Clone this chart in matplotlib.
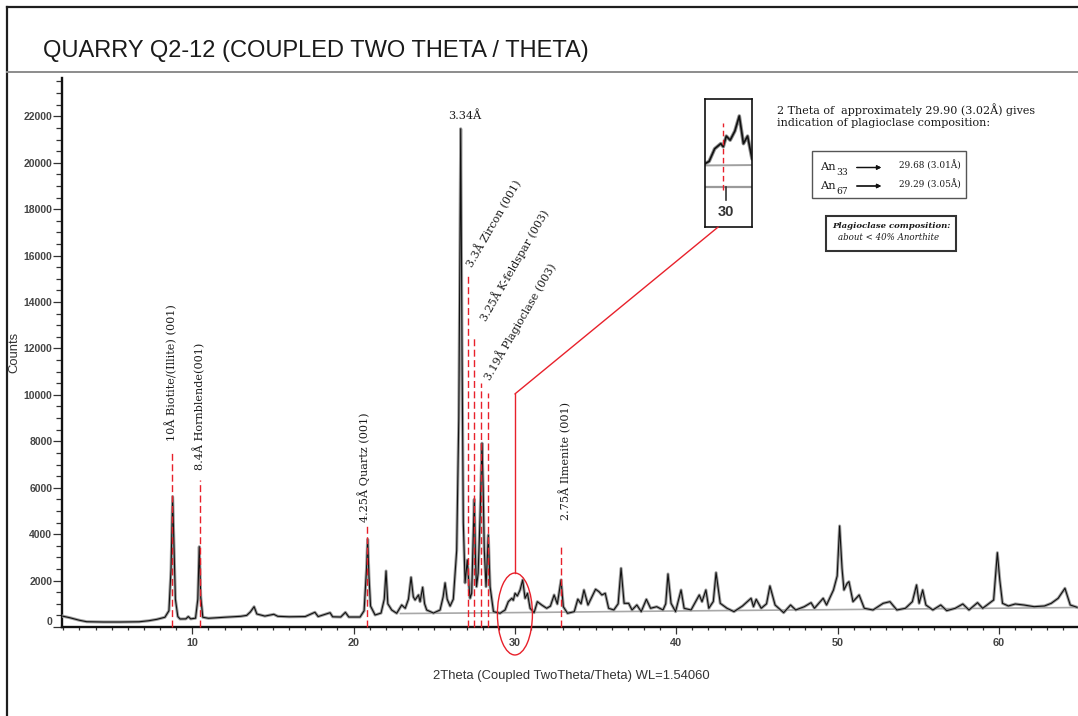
import matplotlib.pyplot as plt
from matplotlib.lines import Line2D
from matplotlib.patches import ConnectionPatch, Ellipse, Rectangle
from matplotlib.ticker import MultipleLocator
from matplotlib.transforms import ScaledTranslation

W, H = 1078, 716

# diffraction pattern (2theta in degrees, counts)
two_theta = [
    1.92, 2.4, 3.0, 3.45, 4.5, 5.5, 6.7, 7.3, 7.8, 8.3, 8.55, 8.68, 8.78, 8.86, 8.95,
    9.1, 9.24, 9.6, 9.75, 9.9, 10.2, 10.34, 10.43, 10.52, 10.65, 11.0, 12.0, 13.0,
    13.37, 13.6, 13.83, 14.0, 14.5, 15.05, 15.3, 16.0, 17.0, 17.6, 17.8, 18.54, 18.7,
    19.2, 19.49, 19.7, 20.4, 20.65, 20.8, 20.87, 20.95, 21.05, 21.33, 21.7, 21.9,
    22.01, 22.12, 22.36, 22.67, 22.98, 23.2, 23.4, 23.56, 23.7, 23.81, 24.02, 24.12,
    24.28, 24.4, 24.53, 24.95, 25.36, 25.55, 25.67, 25.8, 25.98, 26.18, 26.39, 26.52,
    26.64, 26.72, 26.8, 26.91, 27.05, 27.15, 27.22, 27.32, 27.4, 27.48, 27.56, 27.62,
    27.72, 27.84, 27.96, 28.03, 28.1, 28.21, 28.35, 28.46, 28.67, 29.08, 29.39, 29.59,
    29.81, 29.9, 30.01, 30.15, 30.32, 30.48, 30.63, 30.78, 30.94, 31.19, 31.39, 31.66,
    31.97, 32.2, 32.43, 32.63, 32.86, 33.0, 33.26, 33.68, 33.9, 34.1, 34.28, 34.53,
    35.0, 35.21, 35.39, 35.6, 35.81, 36.13, 36.4, 36.58, 36.77, 37.05, 37.26, 37.56,
    37.83, 38.15, 38.41, 38.79, 39.18, 39.35, 39.49, 39.68, 39.96, 40.3, 40.49, 40.92,
    41.43, 41.6, 41.84, 42.02, 42.3, 42.47, 42.73, 43.15, 43.58, 44.11, 44.64, 44.79,
    44.96, 45.27, 45.6, 45.81, 46.13, 46.66, 47.09, 47.41, 47.94, 48.36, 48.57, 49.11,
    49.32, 49.75, 49.98, 50.13, 50.28, 50.4, 50.6, 50.71, 50.96, 51.34, 51.66, 52.2,
    52.83, 53.25, 53.68, 54.21, 54.64, 54.9, 55.06, 55.28, 55.48, 55.91, 56.4, 56.77,
    57.3, 57.77, 58.15, 58.68, 59.0, 59.68, 59.91, 60.06, 60.23, 60.59, 61.02, 61.55,
    62.19, 62.83, 63.25, 63.68, 64.1, 64.43, 64.85,
]
counts = [
    474, 400, 290, 228, 215, 215, 225, 270, 330, 420, 700, 2500, 5616, 3600, 1200,
    450, 345, 350, 450, 350, 380, 1200, 3461, 1300, 420, 375, 420, 460,
    500, 650, 875, 560, 470, 547, 460, 440, 450, 634, 450, 615, 440,
    430, 632, 430, 430, 700, 2500, 3780, 2200, 900, 517, 600, 1200,
    2414, 1000, 733, 590, 948, 806, 1200, 2142, 1300, 1164, 1380, 1091,
    1711, 1000, 733, 600, 733, 1300, 1900, 1200, 900, 1200, 3300, 9000,
    21464, 12000, 4500, 1900, 2888, 1800, 1237, 1452, 3500, 5500, 2800, 1737,
    2314, 4754, 7917, 6000, 3319, 1737, 3965, 1737, 661, 590, 733, 1091,
    1237, 1150, 1452, 1336, 1595, 2026, 1237, 1452, 806, 617, 1091, 948,
    806, 900, 1380, 991, 2026, 875, 590, 661, 1200, 1000, 1595, 948,
    1625, 1523, 1380, 1452, 806, 733, 1000, 2530, 1020, 1020, 733, 948,
    661, 1193, 806, 875, 733, 1000, 2284, 1020, 661, 1595, 806, 733,
    1380, 1091, 1595, 806, 1100, 2342, 1020, 806, 661, 905, 1237, 875,
    1193, 806, 1000, 1767, 948, 617, 948, 733, 875, 1048, 806, 1237,
    948, 1595, 2200, 4353, 2530, 1595, 1883, 1953, 1091, 1380, 806, 733,
    1020, 1091, 733, 806, 1091, 1810, 1020, 1595, 948, 733, 948, 704,
    806, 991, 733, 1048, 806, 1164, 3203, 2026, 1020, 905, 991, 948,
    875, 905, 1020, 1237, 1668, 948, 849,
]

# fitted background
bg_theta = [22.9, 30.0, 40.0, 50.0, 65.0]
bg_counts = [580, 620, 690, 750, 840]

# phase markers: position and top of the dashed line
marker_theta = [8.74, 10.46, 20.86, 27.11, 27.46, 27.92, 28.31, 32.84]
marker_top = [7630, 6340, 4470, 15260, 12500, 10520, 10100, 3460]

upright_labels = ["10Å Biotite/(Illite) (001)", "8.4Å Hornblende(001)",
                  "4.25Å Quartz (001)", "2.75Å Ilmenite (001)"]
upright_theta = [8.69, 10.40, 20.62, 33.11]
upright_base = [8020, 6770, 4540, 4610]

slanted_labels = ["3.3Å Zircon (001)", "3.25Å K-feldspar (003)", "3.19Å Plagioclase (003)"]
slanted_theta = [27.37, 28.25, 28.48]
slanted_base = [15470, 13150, 10600]

quartz_main = (26.9, 21900, "3.34Å")

# plagioclase window
window_center = (30.0, 560)
window_size = (2.17, 3530)
window_link_top = 10040
plag_theta = 29.90

y_ticks = list(range(0, 22001, 2000))
x_ticks = [10, 20, 30, 40, 50, 60]

an_rows = [("An", "33", "29.68 (3.01Å)"), ("An", "67", "29.29 (3.05Å)")]

SANS = ["Liberation Sans", "DejaVu Sans"]
SERIF = ["DejaVu Serif"]
RED = "#e8212b"
INK = "#1a1a1a"


def fig_xy(x, y):
    return x / W, 1 - y / H


fig = plt.figure(figsize=(W / 100, H / 100), dpi=100)
fig.patch.set_facecolor("white")

# page frame
fig.add_artist(Line2D([7.3 / W, 7.3 / W], [0, 1 - 7.3 / H], color="#1e1e1e", lw=1.6))
fig.add_artist(Line2D([7.3 / W, 1], [1 - 7.3 / H, 1 - 7.3 / H], color="#1e1e1e", lw=1.6))
fig.add_artist(Line2D([7.3 / W, 1], [1 - 71.7 / H, 1 - 71.7 / H], color="#8c8c8c", lw=1.4))

fig.text(*fig_xy(42.7, 57.5), "QUARRY Q2-12 (COUPLED TWO THETA / THETA)",
         family=SANS, fontsize=17.0, color=INK, ha="left", va="baseline")

ax = fig.add_axes([62 / W, 1 - 627 / H, (W - 62) / W, (627 - 78) / H])
ax.set_xlim(1.92, 64.91)
ax.set_ylim(0, 23650)

ax.plot(bg_theta, bg_counts, color="#a8a8a8", lw=1.2, zorder=2)
ax.plot(two_theta, counts, color="#a0a0a0", lw=2.2, zorder=3, solid_joinstyle="round")
ax.plot(two_theta, counts, color="#111111", lw=0.8, zorder=4, solid_joinstyle="round")

for t, top in zip(marker_theta, marker_top):
    ax.plot([t, t], [0, top], color=RED, lw=1.0, dashes=(5, 2.5), zorder=5, clip_on=False)

for lbl, t, b in zip(upright_labels, upright_theta, upright_base):
    ax.text(t, b, lbl, rotation=90, ha="center", va="bottom", family=SERIF,
            fontsize=8.1, color=INK)

for lbl, t, b in zip(slanted_labels, slanted_theta, slanted_base):
    ax.text(t, b, lbl, rotation=60, rotation_mode="anchor", ha="left", va="baseline",
            family=SERIF, fontsize=7.9, color=INK)

ax.text(quartz_main[0], quartz_main[1], quartz_main[2], ha="center", va="baseline",
        family=SERIF, fontsize=8.1, color=INK)

# plagioclase window and link to the zoom box
ell = Ellipse(window_center, window_size[0], window_size[1], fill=False,
              edgecolor=RED, lw=1.0, clip_on=False, zorder=6)
ax.add_patch(ell)
ell_top = window_center[1] + window_size[1] / 2
ax.plot([window_center[0], window_center[0]], [ell_top, window_link_top],
        color=RED, lw=1.0, zorder=6)

for side in ["top", "right"]:
    ax.spines[side].set_visible(False)
for side in ["left", "bottom"]:
    ax.spines[side].set_linewidth(1.7)
    ax.spines[side].set_color("#111111")

ax.set_yticks(y_ticks)
ax.set_yticklabels([str(v) for v in y_ticks], fontweight="bold", fontsize=7.5,
                   color="#444444", family=SANS)
ax.yaxis.set_minor_locator(MultipleLocator(500))
ax.set_xticks(x_ticks)
ax.set_xticklabels([str(v) for v in x_ticks], fontweight="bold", fontsize=7.8,
                   color="#444444", family=SANS)
ax.xaxis.set_minor_locator(MultipleLocator(1))
ax.tick_params(axis="y", which="major", length=6.5, width=0.9, pad=0.5, color="#333333")
ax.tick_params(axis="y", which="minor", length=4, width=0.9, color="#333333")
ax.tick_params(axis="x", which="major", length=5, width=0.9, pad=3, color="#333333")
ax.tick_params(axis="x", which="minor", length=2.5, width=0.9, color="#333333")

# the zero label sits a little above the axis line
zero_lbl = ax.get_yticklabels()[0]
zero_lbl.set_transform(zero_lbl.get_transform() + ScaledTranslation(0, 0.06, fig.dpi_scale_trans))

fig.text(*fig_xy(571, 676), "2Theta (Coupled TwoTheta/Theta) WL=1.54060", family=SANS,
         fontsize=9.4, color="#333333", ha="center", va="center")
fig.text(*fig_xy(14.5, 352), "Counts", family=SANS, fontsize=9.4, color="#333333",
         rotation=90, ha="center", va="center")

# zoom box around 2theta = 30
axins = fig.add_axes([705 / W, 1 - 227 / H, 47 / W, 128 / H])
axins.set_xlim(29.24, 30.94)
axins.set_ylim(-1140, 2510)
axins.set_xticks([])
axins.set_yticks([])
for sp in axins.spines.values():
    sp.set_linewidth(1.2)
    sp.set_color("#111111")
axins.plot(bg_theta, bg_counts, color="#a0a0a0", lw=1.4)
axins.axhline(0, color="#9a9a9a", lw=1.6)
axins.plot(two_theta, counts, color="#8f8f8f", lw=2.6)
axins.plot(two_theta, counts, color="#111111", lw=1.2)
axins.plot([30, 30], [0, -370], color="#333333", lw=1.2)
axins.text(30, -700, "30", ha="center", va="center", fontsize=10.5, fontweight="bold",
           color="#333333", family=SANS)
axins.plot([plag_theta, plag_theta], [-90, 1830], color=RED, lw=1.0, dashes=(4, 2.5))

link = ConnectionPatch(xyA=(window_center[0], window_link_top), coordsA=ax.transData,
                       xyB=(0.28, 0), coordsB=axins.transAxes, color=RED, lw=1.0)
fig.add_artist(link)

# composition notes
fig.text(*fig_xy(777, 103), "2 Theta of  approximately 29.90 (3.02Å) gives\n"
         "indication of plagioclase composition:", family=SERIF, fontsize=8.0,
         color=INK, ha="left", va="top", linespacing=1.25)

fig.add_artist(Rectangle(fig_xy(811.7, 198.3), 154 / W, 47.6 / H, transform=fig.transFigure,
                         fill=False, edgecolor="#555555", lw=1.0))
for i, (base, sub, val) in enumerate(an_rows):
    yb = 170.5 + 18.5 * i
    fig.text(*fig_xy(820.5, yb), base, family=SERIF, fontsize=8.2, color=INK,
             ha="left", va="baseline")
    fig.text(*fig_xy(836.5, yb + 4.5), sub, family=SERIF, fontsize=6.6, color=INK,
             ha="left", va="baseline")
    fig.text(*fig_xy(899, yb - 1.5), val, family=SERIF, fontsize=6.4, color=INK,
             ha="left", va="baseline")
    fig.add_artist(plt.annotate("", xy=fig_xy(884, yb - 3), xytext=fig_xy(854, yb - 3),
                                xycoords="figure fraction", textcoords="figure fraction",
                                arrowprops=dict(arrowstyle="-|>", color="#111111", lw=0.9,
                                                mutation_scale=6)))

fig.add_artist(Rectangle(fig_xy(825.7, 250.7), 130.3 / W, 35 / H, transform=fig.transFigure,
                         fill=False, edgecolor="#333333", lw=1.5))
fig.text(*fig_xy(891.5, 225.5), "Plagioclase composition:", family=SERIF, fontsize=6.1,
         fontweight="bold", style="italic", color=INK, ha="center", va="center")
fig.text(*fig_xy(837.5, 237.5), "about < 40% Anorthite", family=SERIF, fontsize=6.2,
         style="italic", color=INK, ha="left", va="center")

fig.savefig("out.png", dpi=100)
